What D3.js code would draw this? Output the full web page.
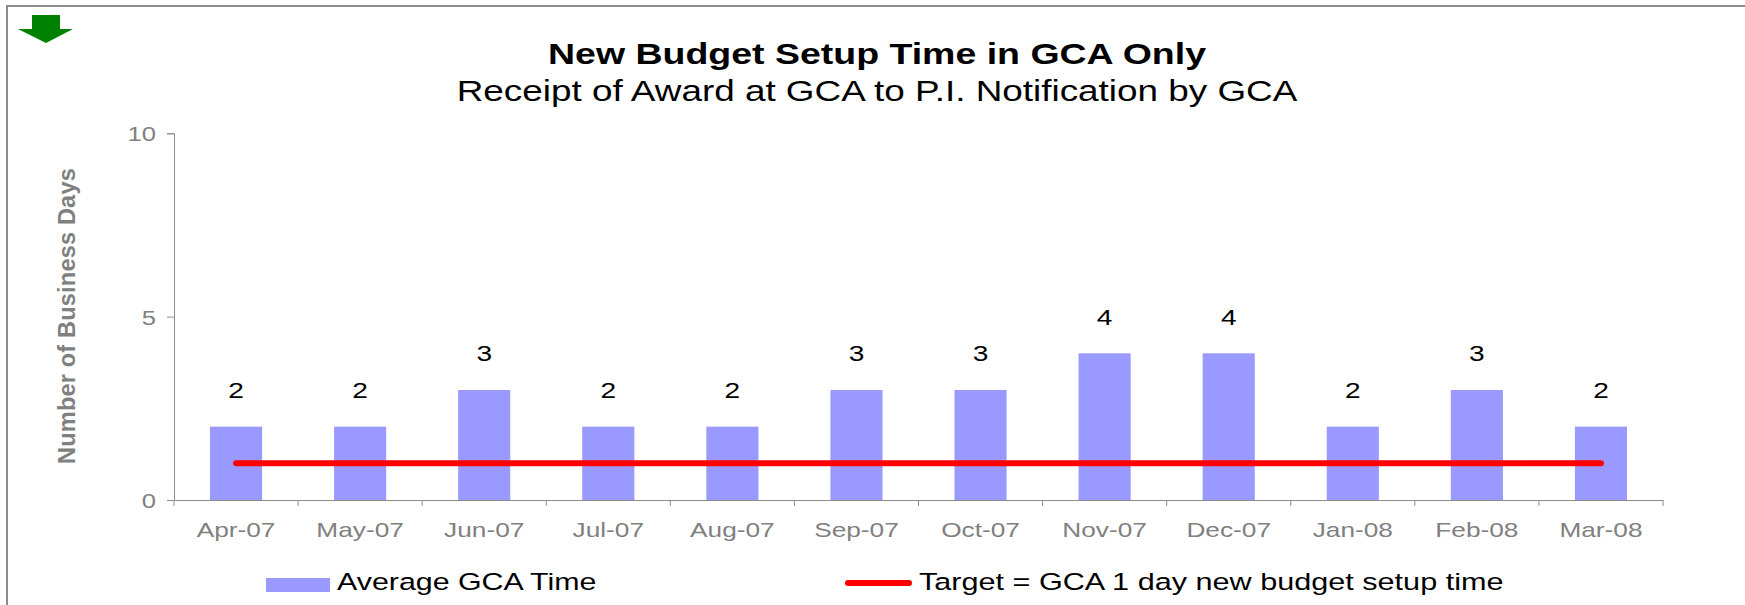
<!DOCTYPE html>
<html>
<head>
<meta charset="utf-8">
<script src="https://cdn.jsdelivr.net/npm/d3@7"></script>
<style>
body { margin: 0; background: #fff; }
text { font-family: "Liberation Sans", Arial, sans-serif; }
</style>
</head>
<body>
<script>
var width = 1745, height = 605;

// data
var months = ["Apr-07","May-07","Jun-07","Jul-07","Aug-07","Sep-07","Oct-07","Nov-07","Dec-07","Jan-08","Feb-08","Mar-08"];
var avgTime = [2,2,3,2,2,3,3,4,4,2,3,2];
var target = [1,1,1,1,1,1,1,1,1,1,1,1];
var yTicks = [0,5,10];
var seriesNames = ["Average GCA Time","Target = GCA 1 day new budget setup time"];
var titleText = "New Budget Setup Time in GCA Only";
var subtitleText = "Receipt of Award at GCA to P.I. Notification by GCA";
var yTitleText = "Number of Business Days";

var barColor = "#9999ff", lineColor = "#ff0000", axisColor = "#8c8c8c", labelGrey = "#808080";
var stretch = 1.25; // text in the original is drawn wider than normal

var svg = d3.select("body")
.append("svg")
.attr("width", width)
.attr("height", height)
.attr("id","svg");

// widen a text element horizontally around its anchor point
function widen(sel){
    sel.each(function(){
        var t = d3.select(this);
        var x0 = +(t.attr("x") || 0);
        var old = t.attr("transform") || "";
        t.attr("transform", old + " translate(" + x0 + " 0) scale(" + stretch + " 1) translate(" + (-x0) + " 0)");
    });
}

// frame
svg.append("path")
.attr("d","M7," + height + " L7,6 L" + width + ",6")
.attr("fill","none")
.attr("stroke","#8c8c8c")
.attr("stroke-width",2);

// green arrow
svg.append("polygon")
.attr("points","32,15 60,15 60,29 73,29 46,43 18,29 32,29")
.attr("fill","#008000");

var x = d3.scaleBand()
.domain(months)
.range([174, 1663])
.paddingInner(0.58)
.paddingOuter(0.29);

var y = d3.scaleLinear()
.domain([0,10])
.range([500, 133.3]);

var mainGroup = svg.append("g").attr("id","mainGroup");

// y axis
var yAxis = mainGroup.append("g")
.attr("transform","translate(174,0)")
.call(d3.axisLeft(y).tickValues(yTicks).tickSize(7).tickPadding(11).tickFormat(d3.format("d")));
yAxis.selectAll("path,line").attr("stroke",axisColor);
yAxis.selectAll("text").attr("fill",labelGrey).attr("font-size",20.5).attr("dy","0.36em").call(widen);

// x axis: labels centred in bands, ticks at band edges
var xAxis = mainGroup.append("g")
.attr("transform","translate(0,500)")
.call(d3.axisBottom(x).tickSize(0).tickPadding(22));
xAxis.select("path").attr("stroke",axisColor);
xAxis.selectAll("text").attr("fill",labelGrey).attr("font-size",21).attr("dy","0.71em").call(widen);

var edges = months.map(function(m){ return x(m) + x.bandwidth()/2 - x.step()/2; });
edges.push(x.range()[1]);
xAxis.selectAll(".edge")
.data(edges)
.enter().append("line")
.attr("class","edge")
.attr("x1",function(d){ return d; })
.attr("x2",function(d){ return d; })
.attr("y1",0)
.attr("y2",6)
.attr("stroke",axisColor);

// bars
mainGroup.selectAll(".bar")
.data(avgTime)
.enter().append("rect")
.attr("class","bar")
.attr("x", function(d,i){ return x(months[i]); })
.attr("y", function(d){ return y(d); })
.attr("width", x.bandwidth())
.attr("height", function(d){ return y(0) - y(d); })
.attr("fill", barColor);

// target line
var line = d3.line()
.x(function(d,i){ return x(months[i]) + x.bandwidth()/2; })
.y(function(d){ return y(d); });
mainGroup.append("path")
.datum(target)
.attr("d", line)
.attr("fill","none")
.attr("stroke",lineColor)
.attr("stroke-width",6)
.attr("stroke-linecap","round");

// value labels
mainGroup.selectAll(".val")
.data(avgTime)
.enter().append("text")
.attr("class","val")
.attr("x", function(d,i){ return x(months[i]) + x.bandwidth()/2; })
.attr("y", function(d){ return y(d) - 28.5; })
.attr("text-anchor","middle")
.attr("font-size",22.5)
.attr("fill","#000")
.text(function(d){ return d; })
.call(widen);

// titles
svg.append("text")
.attr("x",877).attr("y",64)
.attr("text-anchor","middle")
.attr("font-size",30)
.attr("font-weight","bold")
.text(titleText)
.call(widen);

svg.append("text")
.attr("x",877).attr("y",101)
.attr("text-anchor","middle")
.attr("font-size",29.5)
.text(subtitleText)
.call(widen);

svg.append("text")
.attr("transform","translate(75,316) rotate(-90)")
.attr("text-anchor","middle")
.attr("font-size",23.5)
.attr("font-weight","bold")
.attr("letter-spacing",0.2)
.attr("fill",labelGrey)
.text(yTitleText);

// legend
var legend = svg.append("g").attr("id","legend");
legend.append("rect")
.attr("x",266).attr("y",578)
.attr("width",64).attr("height",14)
.attr("fill",barColor);
legend.append("text")
.attr("x",337).attr("y",590)
.attr("font-size",24.3)
.text(seriesNames[0])
.call(widen);

legend.append("line")
.attr("x1",848).attr("x2",909)
.attr("y1",583).attr("y2",583)
.attr("stroke",lineColor)
.attr("stroke-width",6)
.attr("stroke-linecap","round");
legend.append("text")
.attr("x",919).attr("y",590)
.attr("font-size",24.5)
.text(seriesNames[1])
.call(widen);
</script>
</body>
</html>
